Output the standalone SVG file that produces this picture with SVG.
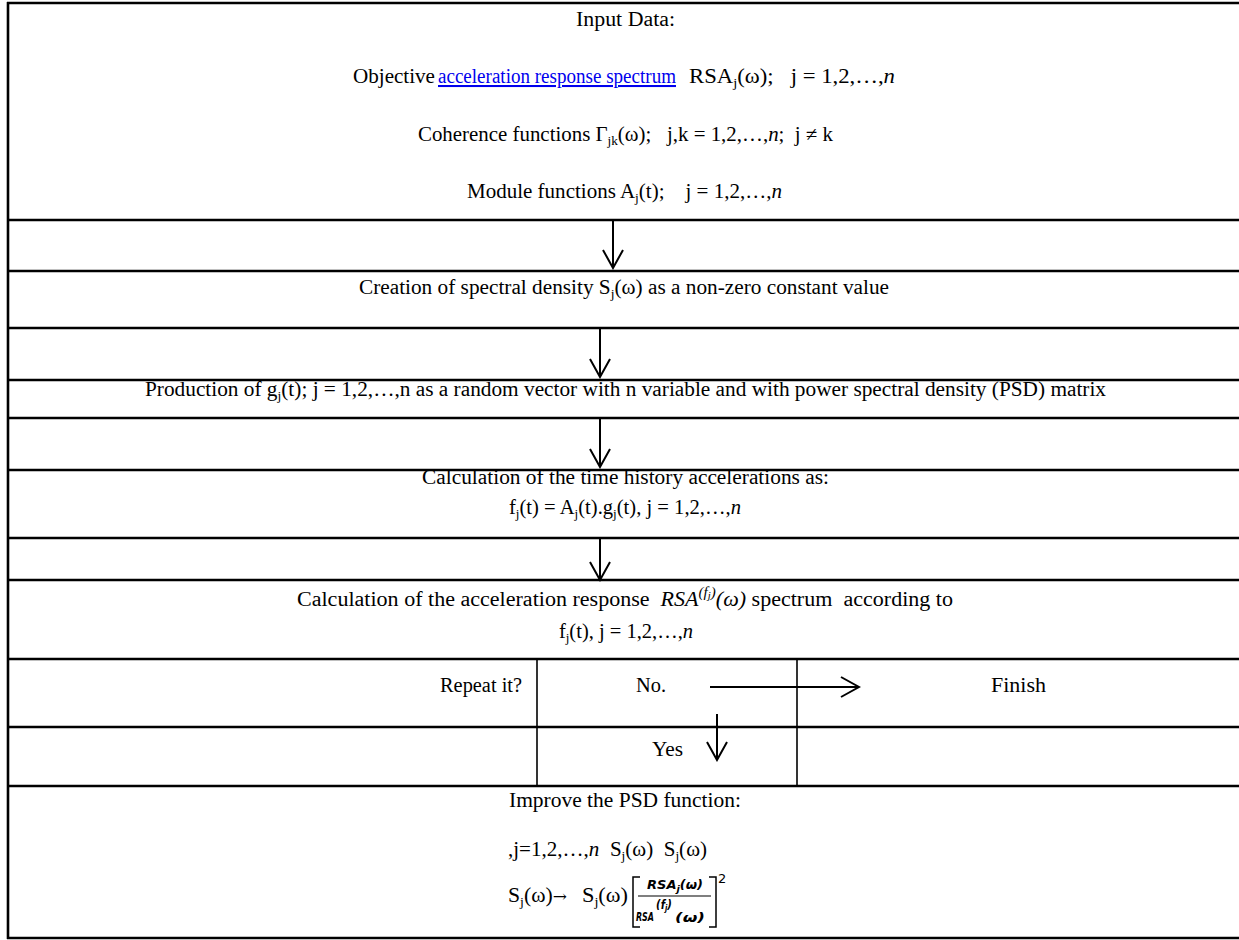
<svg xmlns="http://www.w3.org/2000/svg" width="1239" height="940" viewBox="0 0 1239 940">
<style>
  .t { font-family: "Liberation Serif", "Times New Roman", serif; font-size: 20.5px; fill: #000; white-space: pre; }
  .sub { font-size: 13px; }
  .it { font-style: italic; }
  .link { fill: #0000ee; text-decoration: underline; }
  .m { font-family: "DejaVu Sans", "Liberation Sans", sans-serif; font-style: italic; font-weight: 600; font-size: 12px; fill: #000; white-space: pre; }
  .rule { stroke: #000; stroke-width: 2.6; fill: none; }
  .vrule { stroke: #000; stroke-width: 1.6; fill: none; }
  .arrow { stroke: #000; stroke-width: 2; fill: none; marker-end: url(#vhead); }
  .br { stroke: #000; stroke-width: 1.5; fill: none; }
</style>
<defs>
  <marker id="vhead" markerUnits="userSpaceOnUse" markerWidth="22" markerHeight="24" refX="18" refY="10" orient="auto" viewBox="-2 -2 22 24">
    <path d="M0,0 L18,10 L0,20" fill="none" stroke="#000" stroke-width="2"/>
  </marker>
</defs>
<rect x="0" y="0" width="1239" height="940" fill="#fff"/>

<g id="frame">
  <line class="rule" x1="8" y1="2" x2="8" y2="939"/>
  <line class="rule" x1="7" y1="3" x2="1239" y2="3"/>
  <line class="rule" x1="7" y1="220" x2="1239" y2="220"/>
  <line class="rule" x1="7" y1="271" x2="1239" y2="271"/>
  <line class="rule" x1="7" y1="328" x2="1239" y2="328"/>
  <line class="rule" x1="7" y1="380" x2="1239" y2="380"/>
  <line class="rule" x1="7" y1="418" x2="1239" y2="418"/>
  <line class="rule" x1="7" y1="470" x2="1239" y2="470"/>
  <line class="rule" x1="7" y1="538" x2="1239" y2="538"/>
  <line class="rule" x1="7" y1="580" x2="1239" y2="580"/>
  <line class="rule" x1="7" y1="659" x2="1239" y2="659"/>
  <line class="rule" x1="7" y1="727" x2="1239" y2="727"/>
  <line class="rule" x1="7" y1="786" x2="1239" y2="786"/>
  <line class="rule" x1="7" y1="938" x2="1239" y2="938"/>
  <line class="vrule" x1="537" y1="659" x2="537" y2="786"/>
  <line class="vrule" x1="797" y1="659" x2="797" y2="786"/>
</g>

<g id="input">
  <text class="t" x="576" y="26" textLength="99" lengthAdjust="spacingAndGlyphs">Input Data:</text>
  <text class="t" x="353" y="83" textLength="82" lengthAdjust="spacingAndGlyphs">Objective</text>
  <text class="t link" x="438" y="83" textLength="238" lengthAdjust="spacingAndGlyphs">acceleration response spectrum</text>
  <text class="t" x="689" y="83" textLength="206" lengthAdjust="spacingAndGlyphs">RSA<tspan class="sub" dy="4">j</tspan><tspan dy="-4">(ω);   j = 1,2,…,</tspan><tspan class="it">n</tspan></text>
  <text class="t" x="418" y="141" textLength="415" lengthAdjust="spacingAndGlyphs">Coherence functions Γ<tspan class="sub" dy="4">jk</tspan><tspan dy="-4">(ω);   j,k = 1,2,…,</tspan><tspan class="it">n</tspan>;  j ≠ k</text>
  <text class="t" x="467" y="198" textLength="315" lengthAdjust="spacingAndGlyphs">Module functions A<tspan class="sub" dy="4">j</tspan><tspan dy="-4">(t);    j = 1,2,…,</tspan><tspan class="it">n</tspan></text>
</g>

<g id="creation">
  <text class="t" x="359" y="294" textLength="530" lengthAdjust="spacingAndGlyphs">Creation of spectral density S<tspan class="sub" dy="4">j</tspan><tspan dy="-4">(ω) as a non-zero constant value</tspan></text>
</g>

<g id="production">
  <text class="t" x="145" y="396" textLength="961" lengthAdjust="spacingAndGlyphs">Production of g<tspan class="sub" dy="4">j</tspan><tspan dy="-4">(t); j = 1,2,…,n as a random vector with n variable and with power spectral density (PSD) matrix</tspan></text>
</g>

<g id="timehistory">
  <text class="t" x="422" y="484" textLength="407" lengthAdjust="spacingAndGlyphs">Calculation of the time history accelerations as:</text>
  <text class="t" x="509" y="514" textLength="232" lengthAdjust="spacingAndGlyphs">f<tspan class="sub" dy="4">j</tspan><tspan dy="-4">(t) = A</tspan><tspan class="sub" dy="4">j</tspan><tspan dy="-4">(t).g</tspan><tspan class="sub" dy="4">j</tspan><tspan dy="-4">(t), j = 1,2,…,</tspan><tspan class="it">n</tspan></text>
</g>

<g id="response">
  <text class="t" x="297" y="606" textLength="656" lengthAdjust="spacingAndGlyphs">Calculation of the acceleration response  <tspan class="it">RSA</tspan><tspan class="it" font-size="14" dy="-9">(f<tspan font-size="10" dy="2">j</tspan><tspan dy="-2">)</tspan></tspan><tspan class="it" dy="9">(ω)</tspan> spectrum  according to</text>
  <text class="t" x="626" y="638" text-anchor="middle">f<tspan class="sub" dy="4">j</tspan><tspan dy="-4">(t), j = 1,2,…,</tspan><tspan class="it">n</tspan></text>
</g>

<g id="repeat">
  <text class="t" x="440" y="692" textLength="82" lengthAdjust="spacingAndGlyphs">Repeat it?</text>
</g>
<g id="no">
  <text class="t" x="636" y="692" textLength="30" lengthAdjust="spacingAndGlyphs">No.</text>
</g>
<g id="finish">
  <text class="t" x="991" y="692" textLength="55" lengthAdjust="spacingAndGlyphs">Finish</text>
</g>
<g id="yes">
  <text class="t" x="652" y="756" textLength="31" lengthAdjust="spacingAndGlyphs">Yes</text>
</g>

<g id="improve">
  <text class="t" x="509" y="807" textLength="232" lengthAdjust="spacingAndGlyphs">Improve the PSD function:</text>
  <text class="t" x="508" y="856" textLength="199" lengthAdjust="spacingAndGlyphs">,j=1,2,…,<tspan class="it">n</tspan>  S<tspan class="sub" dy="4">j</tspan><tspan dy="-4">(ω)  S</tspan><tspan class="sub" dy="4">j</tspan><tspan dy="-4">(ω)</tspan></text>
  <text class="t" x="508" y="902" textLength="59" lengthAdjust="spacingAndGlyphs">S<tspan class="sub" dy="4">j</tspan><tspan dy="-4">(ω)</tspan><tspan font-family="DejaVu Serif, serif" font-size="16">→</tspan></text>
  <text class="t" x="582" y="902" textLength="46" lengthAdjust="spacingAndGlyphs">S<tspan class="sub" dy="4">j</tspan><tspan dy="-4">(ω)</tspan></text>
  <path class="br" d="M640,877 L633,877 L633,927 L640,927"/>
  <path class="br" d="M709,877 L716,877 L716,927 L709,927"/>
  <text class="m" x="647" y="889" textLength="56" lengthAdjust="spacingAndGlyphs">RSA<tspan font-size="9" dy="3">j</tspan><tspan dy="-3">(ω)</tspan></text>
  <line x1="638" y1="896" x2="711" y2="896" stroke="#000" stroke-width="1.2"/>
  <text class="m" x="636" y="921" font-size="10" textLength="18" lengthAdjust="spacingAndGlyphs">RSA</text>
  <text class="m" x="656" y="909" font-size="10" textLength="16" lengthAdjust="spacingAndGlyphs">(f<tspan font-size="8" dy="2">j</tspan><tspan dy="-2">)</tspan></text>
  <text class="m" x="675" y="922" font-size="11" textLength="30" lengthAdjust="spacingAndGlyphs">(ω)</text>
  <text x="718" y="883" font-family="DejaVu Sans, sans-serif" font-size="13">2</text>
</g>

<g id="connectors">
  <line class="arrow" x1="613" y1="221" x2="613" y2="268"/>
  <line class="arrow" x1="600" y1="329" x2="600" y2="377"/>
  <line class="arrow" x1="600" y1="419" x2="600" y2="467"/>
  <line class="arrow" x1="600" y1="539" x2="600" y2="580"/>
  <line class="arrow" x1="710" y1="687" x2="859" y2="687"/>
  <line class="arrow" x1="717" y1="714" x2="717" y2="760"/>
</g>
</svg>
